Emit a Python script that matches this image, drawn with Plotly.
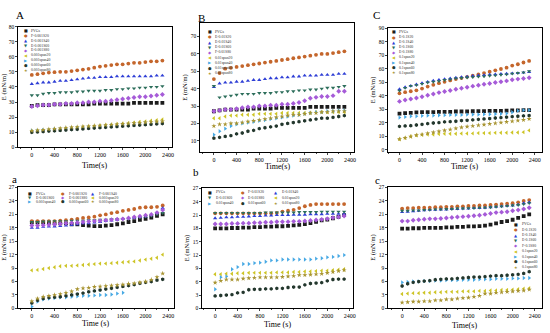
import plotly.graph_objects as go

# ---------------- data ----------------
times = [0, 100, 200, 300, 400, 500, 600, 700, 800, 900, 1000, 1100, 1200,
         1300, 1400, 1500, 1600, 1700, 1800, 1900, 2000, 2100, 2200, 2300]

symbols = ["square", "circle", "triangle-up", "triangle-down", "diamond",
           "triangle-left", "triangle-right", "hexagon", "star"]
glyphs = ["■", "●", "▲", "▼", "◆", "◀", "▶", "⬢", "★"]
colors = ["#1c1c1c", "#c4662c", "#2f3fd6", "#2d6e5b", "#a65bd8",
          "#cdc425", "#47a9e4", "#23372d", "#a89432"]

labels_A = ["PVGs", "F-0.001S20", "E-0.001S40", "E-0.001S60", "E-0.001S80",
            "0.001span20", "0.001span40", "0.001span60", "0.001span80"]
labels_B = ["PVGs", "E-0.01S20", "E-0.01S40", "E-0.01S60", "F-0.01S80",
            "0.01span20", "0.01span40", "0.01span60", "0.01span80"]
labels_C = ["PVGs", "E-0.1S20", "E-0.1S40", "E-0.1S60", "E-0.1S80",
            "0.1span20", "0.1span40", "0.1span60", "0.1span80"]
labels_a = ["PVGs", "F-0.001S20", "F-0.001S40", "E-0.001S60", "E-0.001S80",
            "0.001span20", "0.001span40", "0.001span60", "0.001span80"]
labels_b = ["PVGs", "F-0.01S20", "E-0.01S40", "E-0.01S60", "E-0.01S80",
            "0.01span20", "0.01span40", "0.01span60", "0.01span80"]
labels_c = ["PVGs", "E-0.1S20", "E-0.1S40", "E-0.1S60", "F-0.1S80",
            "0.1span20", "0.1span40", "0.1span60", "0.1span80"]

# Panel A
A_PVGs = [27.5, 28, 28, 28, 28.5, 28.5, 28.5, 28.5, 28.5, 28.5, 28.5, 29, 29, 29, 29, 29, 29, 29, 29.5, 29.5, 29.5, 29.5, 29.5, 29.5]
A_S20 = [48, 48.5, 49, 49.5, 49.8, 50, 50, 50.5, 51, 51.5, 52, 52.8, 53.5, 54, 54.5, 55, 55, 55.5, 56, 56, 56.5, 57, 57, 57.5]
A_S40 = [42, 42.5, 43, 43, 43.5, 44, 44, 44.5, 45, 45.5, 46, 46, 46.5, 46.5, 46.5, 47, 47, 47, 47, 47, 47, 47, 47.5, 47.5]
A_S60 = [34.5, 34.5, 35.5, 36, 36, 36.5, 36.5, 36.5, 37, 37, 37.5, 37.5, 37.5, 38, 38, 38.5, 38.5, 39, 39, 39.5, 39.5, 40, 40, 40.5]
A_S80 = [27, 27.5, 28, 28, 28.5, 28.5, 29, 29, 29.5, 29.5, 30, 30, 30.5, 30.5, 31, 31.5, 32, 32.5, 33, 33.5, 33.5, 34, 34.5, 35]
A_span20 = [10.5, 10.8, 11, 11.3, 11.6, 12, 12.3, 12.6, 13, 13.3, 13.7, 14, 14.3, 14.7, 15, 15.3, 15.7, 16, 16.4, 16.8, 17.2, 17.6, 18, 18.5]
A_span40 = [11, 11, 11.5, 11.5, 12, 12, 12.5, 12.5, 13, 13, 13.5, 13.5, 14, 14, 14.5, 14.5, 15, 15, 15.5, 15.5, 16, 16, 16.5, 16.5]
A_span60 = [10, 10.2, 10.5, 10.8, 11, 11.2, 11.5, 11.8, 12, 12.2, 12.5, 12.8, 13, 13.2, 13.5, 13.8, 14, 14.2, 14.5, 14.8, 15, 15.2, 15.5, 15.8]
A_span80 = [11, 11.3, 11.6, 12, 12.3, 12.6, 13, 13.3, 13.5, 13.8, 14, 14.3, 14.5, 14.8, 15, 15.3, 15.5, 15.8, 16, 16.3, 16.5, 16.8, 17, 17.2]

# Panel B
B_PVGs = [27, 27.5, 28, 28, 28, 28, 28, 28.5, 28.5, 28.5, 28.5, 29, 29, 29, 29, 29, 29, 29.5, 29.5, 29.5, 29.5, 29.5, 29.5, 29.5]
B_S20 = [45.5, 49, 51.5, 52, 52.5, 53, 53.5, 54, 54.5, 55, 55.5, 56, 56.5, 57, 57.5, 58, 58.5, 59, 59.5, 60, 60, 60.5, 61, 61.5]
B_S40 = [41, 43, 43.5, 43.5, 44, 44, 44.5, 45, 45, 45.5, 46, 46, 46.5, 46.5, 47, 47, 47.5, 47.5, 47.5, 48, 48, 48, 48.5, 48.5]
B_S60 = [41.5, 35, 35.5, 36, 36.5, 37, 37, 37, 37.5, 37.5, 37.5, 38, 38, 38.5, 38.5, 39, 39, 39.5, 39.5, 40, 40.5, 40.5, 41, 41.5]
B_S80 = [27, 27.5, 28, 28, 28.5, 29, 29.5, 29.5, 30, 30, 30.5, 30.5, 31, 31, 31.5, 32, 33, 34.5, 35, 35.5, 35.5, 36, 38.5, 38.5]
B_span20 = [23, 23, 24, 24.5, 24.5, 25, 25, 25, 25.5, 25.5, 25.5, 25.5, 26, 26, 26, 26, 26, 26, 26.5, 26.5, 26.5, 26.5, 26.5, 26.5]
B_span40 = [13.5, 15.5, 17, 18.5, 19.5, 20, 20.5, 21, 21.5, 22, 22.5, 23, 23.5, 24, 24.5, 25, 25.5, 26, 26.5, 26.5, 27, 27, 27.5, 27.5]
B_span60 = [11.5, 12, 12.5, 13, 14, 14.5, 15.5, 16, 17, 17.5, 18, 18.5, 19.5, 20, 20.5, 21, 21.5, 22, 22.5, 23, 23, 23.5, 24, 24.5]
B_span80 = [18.5, 19.5, 19.5, 20, 20, 20.5, 21, 21.5, 22, 22.5, 23, 23.5, 24, 24.5, 25, 25, 25.5, 26, 26, 26.5, 26.5, 27, 27, 27]

# Panel C
C_PVGs = [27, 27.3, 27.5, 27.8, 28, 28, 28, 28.2, 28.2, 28.3, 28.5, 28.5, 28.5, 28.7, 28.8, 28.8, 29, 29, 29, 29.2, 29.3, 29.3, 29.5, 29.5]
C_S20 = [42, 42.8, 43.5, 44.2, 45.5, 47, 48.3, 49.5, 50.5, 51.5, 52.5, 53.3, 54.2, 55, 56, 57, 58, 59, 60, 61, 62.5, 63.5, 64.8, 66]
C_S40 = [45, 46.5, 47.5, 48.5, 49.5, 50.5, 51.3, 52, 52.5, 53, 53.5, 54, 54.3, 54.8, 55.2, 55.5, 55.8, 56, 56.3, 56.5, 56.8, 57, 57.3, 57.8]
C_S60 = [44, 46, 47.5, 48, 49, 50, 50.5, 51, 51.8, 52.3, 53, 53.3, 53.7, 54, 54.3, 54.5, 55, 55.3, 55.7, 56, 56.5, 57, 57.5, 58.3]
C_S80 = [36, 37, 37.8, 38.5, 39.5, 40.5, 41.5, 42.5, 43.3, 44, 45, 45.8, 46.5, 47.3, 48, 48.7, 49.3, 50, 50.5, 51.2, 52, 52.5, 53, 53.5]
C_span20 = [8, 8.8, 10, 10.8, 11.2, 11.5, 11.5, 11.8, 12, 12, 12, 12.2, 12.2, 12.3, 12.5, 12.5, 12.5, 12.7, 12.8, 12.8, 13, 13, 13.2, 14.5]
C_span40 = [24, 24.5, 25, 25, 25.3, 25.5, 25.5, 25.7, 25.8, 26, 26, 26, 26.2, 26.3, 26.3, 26.5, 26.5, 26.7, 26.8, 27, 28, 29, 29.5, 29.5]
C_span60 = [17.5, 17.8, 18, 18.5, 19, 19.5, 20, 20.3, 20.8, 21, 21.3, 21.8, 22, 22.3, 22.7, 23, 23.3, 23.7, 24, 24.3, 24.7, 25, 25.3, 25.5]
C_span80 = [8, 9, 10, 11, 11.5, 12.3, 13, 13.8, 14.5, 15.2, 16, 16.7, 17.3, 17.8, 18.3, 18.8, 19.3, 19.8, 20.3, 20.8, 21.3, 21.8, 22.3, 23]

# Panel a
a_PVGs = [19.2, 19.2, 19.2, 19.1, 19, 19, 19, 18.8, 18.8, 18.6, 18.5, 18.4, 18.4, 18.5, 18.6, 18.8, 19, 19.3, 19.5, 19.8, 20, 20.3, 20.7, 21]
a_S20 = [19.5, 19.5, 19.5, 19.5, 19.5, 19.6, 19.7, 19.8, 20, 20.2, 20.3, 20.5, 20.8, 21, 21.3, 21.5, 21.8, 22, 22.2, 22.5, 22.6, 22.6, 22.7, 23]
a_S40 = [18, 18, 18.2, 18.3, 18.3, 18.4, 18.5, 18.6, 18.8, 19, 19, 19.2, 19.3, 19.5, 19.6, 19.8, 20, 20.1, 20.2, 20.4, 20.5, 20.8, 21.3, 22.4]
a_S60 = [19.3, 19.3, 19.4, 19.4, 19.5, 19.5, 19.5, 19.6, 19.6, 19.6, 19.7, 19.7, 19.8, 19.8, 19.9, 19.9, 20, 20, 20.2, 20.3, 20.5, 20.7, 21, 21.3]
a_S80 = [18.5, 18.5, 18.6, 18.7, 18.8, 18.9, 19, 19.1, 19.2, 19.3, 19.4, 19.5, 19.6, 19.7, 19.8, 19.9, 20, 20.2, 20.4, 20.6, 20.8, 21, 21.4, 22]
a_span20 = [8.5, 8.6, 8.8, 9, 9.2, 9.4, 9.5, 9.5, 9.6, 9.7, 9.8, 9.9, 10, 10, 10.1, 10.2, 10.3, 10.4, 10.5, 10.7, 10.9, 11.1, 11.3, 12]
a_span40 = [0.4, 1.5, 2, 2.2, 2.3, 2.5, 2.5, 2.6, 2.7, 2.8, 2.8, 2.9, 3, 3, 3.1, 3.3, 3.5]
a_span60 = [1.2, 1.8, 2.2, 2.4, 2.5, 2.6, 2.8, 3, 3.2, 3.4, 3.7, 3.9, 4.1, 4.3, 4.5, 4.7, 4.9, 5.1, 5.3, 5.6, 5.8, 6, 6.3, 6.5]
a_span80 = [1.6, 2.2, 2.6, 2.8, 3, 3.2, 3.5, 3.8, 4.3, 4.5, 4.6, 4.8, 4.9, 5, 5.1, 5.2, 5.3, 5.5, 5.6, 5.8, 6, 6.4, 7, 7.8]

# Panel b
b_PVGs = [18, 18, 18, 18.1, 18.1, 18.2, 18.2, 18.3, 18.3, 18.4, 18.4, 18.5, 18.5, 18.6, 18.7, 18.8, 19, 19.2, 19.5, 19.8, 20, 20.3, 20.6, 21]
b_S20 = [21.4, 21.4, 21.4, 21.4, 21.4, 21.4, 21.4, 21.4, 21.4, 21.4, 21.4, 21.5, 21.8, 22, 22.2, 22.6, 23, 23.3, 23.5, 23.5, 23.5, 23.5, 23.5, 23.5]
b_S40 = [20.3, 20.4, 20.5, 20.5, 20.6, 20.6, 20.7, 20.8, 20.8, 20.9, 20.9, 21, 21, 21, 21.1, 21.1, 21.1, 21.2, 21.2, 21.2, 21.3, 21.3, 21.3, 21.3]
b_S60 = [21.5, 21.5, 21.5, 21.5, 21.5, 21.5, 21.5, 21.5, 21.5, 21.6, 21.6, 21.6, 21.6, 21.6, 21.6, 21.7, 21.7, 21.7, 21.7, 21.8, 21.8, 21.8, 21.8, 21.8]
b_S80 = [19, 19, 19, 19.1, 19.1, 19.2, 19.2, 19.3, 19.3, 19.4, 19.4, 19.5, 19.5, 19.5, 19.6, 19.6, 19.7, 19.8, 19.9, 20, 20.2, 20.4, 20.6, 20.8]
b_span20 = [7.7, 7.7, 7.8, 7.8, 7.9, 7.9, 8, 8, 8, 8, 8, 8.1, 8.1, 8.1, 8.2, 8.2, 8.3, 8.3, 8.4, 8.5, 8.5, 8.6, 8.7, 8.8]
b_span40 = [4.3, 7, 7.2, 8.8, 9.3, 10, 10, 10.2, 10.3, 10.5, 10.8, 10.8, 11, 11, 11, 11, 11, 11, 11.2, 11.3, 11.5, 11.6, 11.8, 12]
b_span60 = [2.8, 2.9, 3, 3.1, 3.5, 3.6, 4.2, 4.3, 4.3, 4.4, 4.4, 4.5, 4.5, 4.7, 4.8, 4.8, 5.3, 5.6, 5.7, 5.8, 6.2, 6.5, 6.6, 6.6]
b_span80 = [5.8, 6.2, 6.5, 6.5, 6.5, 6.7, 6.8, 6.9, 7, 7, 7, 7, 7.1, 7.2, 7.3, 7.5, 7.5, 7.6, 7.7, 7.8, 8, 8.2, 8.4, 8.6]

# Panel c
c_PVGs = [17.8, 17.8, 17.9, 17.9, 18, 18, 18, 18, 18.1, 18.1, 18.2, 18.2, 18.3, 18.3, 18.4, 18.5, 18.7, 19, 19.3, 19.5, 19.8, 20.2, 20.6, 21]
c_S20 = [22.3, 22.4, 22.4, 22.5, 22.5, 22.5, 22.6, 22.6, 22.7, 22.7, 22.8, 22.8, 22.9, 22.9, 23, 23, 23.1, 23.2, 23.3, 23.4, 23.5, 23.7, 24, 24.2]
c_S40 = [21.5, 21.6, 21.7, 21.8, 21.9, 22, 22, 22.1, 22.1, 22.2, 22.2, 22.3, 22.3, 22.4, 22.4, 22.5, 22.6, 22.7, 22.8, 22.9, 23, 23.2, 23.5, 23.7]
c_S60 = [21.8, 21.8, 21.9, 21.9, 22, 22, 22.1, 22.1, 22.2, 22.2, 22.3, 22.3, 22.4, 22.4, 22.5, 22.5, 22.6, 22.7, 22.8, 22.9, 23, 23.1, 23.3, 23.5]
c_S80 = [19.5, 19.5, 19.7, 19.8, 19.9, 20, 20, 20.1, 20.2, 20.3, 20.4, 20.5, 20.6, 20.7, 20.8, 21, 21.2, 21.4, 21.5, 21.6, 21.8, 22, 22.2, 22.5]
c_span20 = [3.2, 3.3, 3.4, 3.4, 3.5, 3.5, 3.6, 3.6, 3.7, 3.7, 3.7, 3.8, 3.8, 3.8, 3.9, 3.9, 4, 4, 4.1, 4.1, 4.2, 4.3, 4.4, 4.5]
c_span40 = [5.8, 5.9, 6, 6, 6.1, 6.1, 6.2, 6.2, 6.3, 6.3, 6.3, 6.4, 6.4, 6.4, 6.5, 6.5, 6.5, 6.6, 6.6, 6.6, 6.7, 6.7, 6.8, 6.8]
c_span60 = [5, 5.5, 5.8, 6, 6.1, 6.2, 6.4, 6.5, 6.6, 6.6, 6.7, 6.8, 6.9, 7, 7, 7.1, 7.2, 7.3, 7.3, 7.4, 7.5, 7.6, 7.8, 8.2]
c_span80 = [1.3, 1.4, 1.5, 1.5, 1.6, 1.6, 1.8, 1.8, 2, 2, 2.2, 2.3, 2.4, 2.6, 2.8, 3.3, 3.3, 3.5, 3.6, 3.7, 3.8, 3.9, 4, 4.2]

xticks = [0, 400, 800, 1200, 1600, 2000, 2400]

panels = [
    dict(key="", letter="A", series=[A_PVGs, A_S20, A_S40, A_S60, A_S80, A_span20, A_span40, A_span60, A_span80],
         labels=labels_A, xdom=[0.0327, 0.3145], ydom=[0.5586, 0.9279], xr=[-245, 2470], yr=[0, 80],
         yticks=list(range(0, 81, 10)), xtitle="Time(s)", xt_y=165),
    dict(key="2", letter="B", series=[B_PVGs, B_S20, B_S40, B_S60, B_S80, B_span20, B_span40, B_span60, B_span80],
         labels=labels_B, xdom=[0.3655, 0.6473], ydom=[0.5435, 0.9399], xr=[-246, 2471], yr=[3.4, 78],
         yticks=list(range(10, 71, 10)), xtitle="Time(s)", xt_y=166),
    dict(key="3", letter="C", series=[C_PVGs, C_S20, C_S40, C_S60, C_S80, C_span20, C_span40, C_span60, C_span80],
         labels=labels_C, xdom=[0.7091, 0.9909], ydom=[0.5435, 0.9249], xr=[-206, 2529], yr=[-1.7, 90.7],
         yticks=list(range(0, 91, 10)), xtitle="Time (s)", xt_y=166),
    dict(key="4", letter="a", series=[a_PVGs, a_S20, a_S40, a_S60, a_S80, a_span20, a_span40, a_span60, a_span80],
         labels=labels_a, xdom=[0.0327, 0.3182], ydom=[0.0661, 0.4384], xr=[-245, 2500], yr=[0, 27.2],
         yticks=list(range(0, 28, 3)), xtitle="Time (s)", xt_y=326),
    dict(key="5", letter="b", series=[b_PVGs, b_S20, b_S40, b_S60, b_S80, b_span20, b_span40, b_span60, b_span80],
         labels=labels_b, xdom=[0.3691, 0.6455], ydom=[0.0661, 0.4354], xr=[-236, 2460], yr=[0, 27.2],
         yticks=list(range(0, 28, 3)), xtitle="Time (s)", xt_y=327),
    dict(key="6", letter="c", series=[c_PVGs, c_S20, c_S40, c_S60, c_S80, c_span20, c_span40, c_span60, c_span80],
         labels=labels_c, xdom=[0.7091, 0.9909], ydom=[0.0661, 0.4384], xr=[-258, 2532], yr=[0, 27.2],
         yticks=list(range(0, 28, 3)), xtitle="Time(s)", xt_y=328),
]

def col_legend(x0, y0, dy):
    return [(x0, y0 - i * dy) for i in range(9)]

def grid_legend(xs, y0, dy):
    out = []
    for r in range(3):
        for c in range(3):
            out.append((xs[c], y0 - r * dy))
    return out

legend_pos = [
    col_legend(0.05, 0.965, 0.0407),
    col_legend(0.063, 0.93, 0.040),
    col_legend(0.037, 0.965, 0.041),
    grid_legend([0.08, 0.29, 0.48], 0.94, 0.033),
    grid_legend([0.055, 0.27, 0.49], 0.96, 0.045),
    col_legend(0.83, 0.69, 0.044),
]

SERIF = "Liberation Serif, Times New Roman, serif"
fig = go.Figure()
annotations = []

for p, lp in zip(panels, legend_pos):
    k = p["key"]
    xa, ya = "x" + k, "y" + k
    for i, vals in enumerate(p["series"]):
        fig.add_trace(go.Scatter(
            x=times[:len(vals)], y=vals, mode="markers", xaxis=xa, yaxis=ya,
            showlegend=False, name=p["labels"][i],
            marker=dict(symbol=symbols[i], color=colors[i], size=3.8, line=dict(width=0))))
    xl = "xaxis" + k
    yl = "yaxis" + k
    fig.layout[xl] = dict(domain=p["xdom"], range=p["xr"], anchor=ya, tickvals=xticks,
                          showline=True, mirror=True, linecolor="black", linewidth=1,
                          ticks="outside", ticklen=1.5, tickwidth=0.8, showgrid=False, zeroline=False,
                          tickfont=dict(size=6, family=SERIF, color="black"),
                          minor=dict(ticks="outside", ticklen=1, tickwidth=0.6, dtick=200))
    fig.layout[yl] = dict(domain=p["ydom"], range=p["yr"], anchor=xa, tickvals=p["yticks"],
                          showline=True, mirror=True, linecolor="black", linewidth=1,
                          ticks="outside", ticklen=1.5, tickwidth=0.8, showgrid=False, zeroline=False,
                          tickfont=dict(size=5.5, family=SERIF, color="black"),
                          title=dict(text="E (mN/m)", font=dict(size=6.5, family=SERIF, color="black"), standoff=2))
    xref = xa + " domain"
    yref = ya + " domain"
    xc = (p["xdom"][0] + p["xdom"][1]) / 2
    annotations.append(dict(x=xc, y=1 - p["xt_y"] / 333, xref="paper", yref="paper", text=p["xtitle"],
                            showarrow=False, xanchor="center", yanchor="middle",
                            font=dict(size=8, family=SERIF, color="black")))
    for i, (lx, ly) in enumerate(lp):
        annotations.append(dict(x=lx, y=ly, xref=xref, yref=yref, text=glyphs[i], showarrow=False,
                                xanchor="center", yanchor="middle",
                                font=dict(size=4, color=colors[i], family="DejaVu Sans")))
        annotations.append(dict(x=lx + 0.025, y=ly, xref=xref, yref=yref, text=p["labels"][i], showarrow=False,
                                xanchor="left", yanchor="middle",
                                font=dict(size=3.8, color="#333", family=SERIF)))

for txt, x, y in [("A", 20, 12), ("B", 203, 15), ("C", 379, 12),
                  ("a", 15, 179), ("b", 197, 172), ("c", 380, 180)]:
    annotations.append(dict(x=x / 550, y=1 - y / 333, xref="paper", yref="paper", text=txt,
                            showarrow=False, xanchor="center", yanchor="middle",
                            font=dict(size=11, family=SERIF, color="black")))

fig.update_layout(width=550, height=333, margin=dict(l=0, r=0, t=0, b=0),
                  paper_bgcolor="white", plot_bgcolor="white", showlegend=False,
                  annotations=annotations)

fig.write_html("out.html", config={"displayModeBar": False},
               post_script="document.body.style.margin='0';document.body.style.overflow='hidden';")
